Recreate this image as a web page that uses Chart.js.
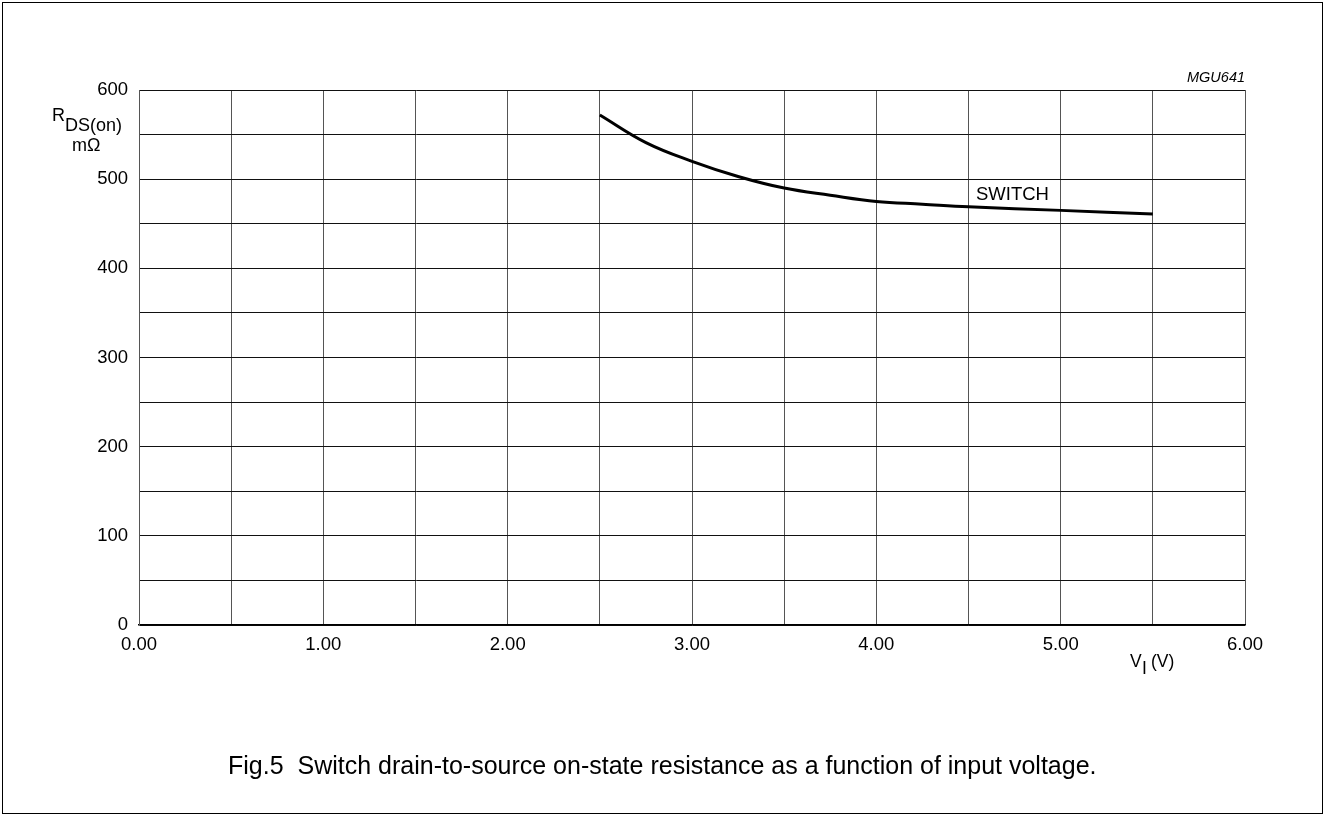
<!DOCTYPE html>
<html>
<head>
<meta charset="utf-8">
<script src="https://cdn.jsdelivr.net/npm/chart.js@4.4.0/dist/chart.umd.min.js"></script>
<style>
    body { margin: 0; background: #fff; }
    #wrap { position: relative; width: 1324px; height: 815px; font-family: "Liberation Sans", Arial, sans-serif; color: #000; overflow: hidden; }
    #wrap canvas { position: absolute; left: 0; top: 0; }
    #frame { position: absolute; left: 2px; top: 2px; width: 1321px; height: 812px; box-sizing: border-box; border: 1.5px solid #000; }
    .txt { position: absolute; white-space: nowrap; line-height: 1; }
</style>
</head>
<body>
<div id="wrap">
    <canvas id="chartRds" width="1324" height="815"></canvas>
    <div id="frame"></div>
    <div class="txt" style="left:52px; top:106px; font-size:18px;">R</div>
    <div class="txt" style="left:65px; top:116px; font-size:18px;">DS(on)</div>
    <div class="txt" style="left:72px; top:136px; font-size:18px;">mΩ</div>
    <div class="txt" style="left:1187px; top:70px; font-size:14.5px; font-style:italic;">MGU641</div>
    <div class="txt" style="left:976px; top:185px; font-size:18.5px;">SWITCH</div>
    <div class="txt" style="left:1130px; top:653px; font-size:17.5px;">V</div>
    <div class="txt" style="left:1142px; top:660px; font-size:17.5px;">I</div>
    <div class="txt" style="left:1151px; top:653px; font-size:17.5px;">(V)</div>
    <div class="txt" style="left:228px; top:753px; font-size:25px;">Fig.5&nbsp; Switch drain-to-source on-state resistance as a function of input voltage.</div>
</div>
<script>
// values
const voltage = [2.5, 2.75, 3.0, 3.25, 3.5, 3.75, 4.0, 4.25, 4.5, 5.0, 5.5];
const resistance = [572, 541, 520, 503, 490, 482, 475, 472, 469, 465, 461];
const xTicks = [0, 1, 2, 3, 4, 5, 6];
const yTicks = [0, 100, 200, 300, 400, 500, 600];

let points = [];
voltage.forEach((v, i) => {
    points.push({ x: v, y: resistance[i] });
});

var ctx = document.getElementById("chartRds");

const chartRds = new Chart(ctx, {
    type: 'scatter',
    data: {
        datasets: [{
            label: 'SWITCH',
            data: points,
            showLine: true,
            borderColor: '#000',
            borderWidth: 3,
            pointRadius: 0,
            tension: 0.4,
        }]
    },
    options: {
        responsive: false,
        animation: false,
        layout: { padding: { left: 0, top: 90, right: 79, bottom: 150 } },
        plugins: { legend: { display: false }, tooltip: { enabled: false } },
        scales: {
            x: {
                type: 'linear',
                min: 0, max: 6,
                ticks: {
                    stepSize: 0.5,
                    autoSkip: false,
                    maxRotation: 0,
                    padding: 9,
                    color: '#000',
                    font: { family: 'Liberation Sans', size: 18.5 },
                    callback: (v) => xTicks.includes(v) ? v.toFixed(2) : ''
                },
                grid: { color: '#555', lineWidth: 1, drawTicks: false },
                border: { color: '#000', width: 1.5 },
                afterFit: (scale) => { scale.height = 40; }
            },
            y: {
                min: 0, max: 600,
                ticks: {
                    stepSize: 50,
                    autoSkip: false,
                    padding: 11,
                    color: '#000',
                    font: { family: 'Liberation Sans', size: 18.5 },
                    callback: (v) => yTicks.includes(v) ? v : ''
                },
                grid: { color: '#111', lineWidth: 1, drawTicks: false },
                border: { color: '#555', width: 1 },
                afterFit: (scale) => { scale.width = 139; }
            }
        }
    }
});
</script>
</body>
</html>
